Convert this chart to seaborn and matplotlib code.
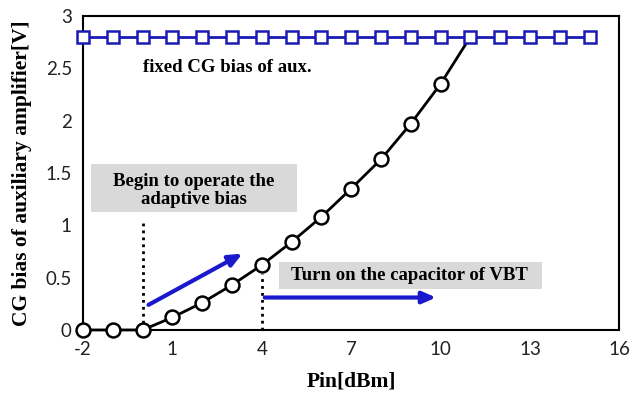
import numpy as np
import pandas as pd
import matplotlib
matplotlib.use("Agg")
import matplotlib.pyplot as plt
from matplotlib.patches import Rectangle
import seaborn as sns

# Input power sweep [dBm]
pin_fixed = [-2, -1, 0, 1, 2, 3, 4, 5, 6, 7, 8, 9, 10, 11, 12, 13, 14, 15]
bias_fixed = [2.8] * len(pin_fixed)

pin_adaptive = [-2, -1, 0, 1, 2, 3, 4, 5, 6, 7, 8, 9, 10, 11]
bias_adaptive = [0, 0, 0, 0.12, 0.26, 0.43, 0.62, 0.84, 1.08, 1.35, 1.63, 1.97, 2.35, 2.8]
n_marked = 13  # the final segment rises to the fixed-bias level without a marker

x_ticks = [-2, 1, 4, 7, 10, 13, 16]
y_ticks = [0, 0.5, 1, 1.5, 2, 2.5, 3]
y_tick_labels = ["0", "0.5", "1", "1.5", "2", "2.5", "3"]

sns.set_style("white")
plt.rcParams["text.color"] = "black"
plt.rcParams["axes.labelcolor"] = "black"
serif = ["Liberation Serif", "DejaVu Serif"]
tick_font = ["Lato", "DejaVu Sans"]
blue = "#1a1ab4"
arrow_blue = "#1a1acc"

fig = plt.figure(figsize=(6.31, 3.99), dpi=100)
ax = fig.add_axes([0.1315, 0.173, 0.85, 0.787])

df_fixed = pd.DataFrame({"pin": pin_fixed, "bias": bias_fixed})
df_adapt = pd.DataFrame({"pin": pin_adaptive, "bias": bias_adaptive})

sns.lineplot(data=df_adapt, x="pin", y="bias", ax=ax, color="black", lw=2,
             marker="o", markersize=10, markerfacecolor="white",
             markeredgecolor="black", markeredgewidth=1.8,
             markevery=list(range(n_marked)), zorder=3, clip_on=False)
sns.lineplot(data=df_fixed, x="pin", y="bias", ax=ax, color=blue, lw=2,
             marker="s", markersize=9, markerfacecolor="white",
             markeredgecolor=blue, markeredgewidth=1.8, zorder=4,
             clip_on=False)

ax.set_xlim(-2, 16)
ax.set_ylim(0, 3)
ax.set_xticks(x_ticks)
ax.set_yticks(y_ticks)
ax.set_xticklabels([str(v) for v in x_ticks], fontsize=13.5, family=tick_font,
                   color="#222222")
ax.set_yticklabels(y_tick_labels, fontsize=13.5, family=tick_font,
                   color="#222222")
ax.tick_params(axis="both", direction="out", length=5, width=1.2, color="black",
               pad=3)
for s in ax.spines.values():
    s.set_color("black")
    s.set_linewidth(1.5)

ax.set_xlabel("Pin[dBm]", fontsize=15.5, fontweight="bold", family=serif,
              labelpad=10, color="black")
ax.set_ylabel("CG bias of auxiliary amplifier[V]", fontsize=15.5,
              fontweight="bold", family=serif, labelpad=10, color="black")

# Annotations
ax.text(0.0, 2.51, "fixed CG bias of aux.", fontsize=13.5, fontweight="bold",
        family=serif, va="center", ha="left", color="black")

ax.add_patch(Rectangle((-1.73, 1.127), 6.91, 0.458, fc="#d9d9d9", ec="none",
                       zorder=1))
ax.text(1.72, 1.33, "Begin to operate the\nadaptive bias", fontsize=13.5,
        fontweight="bold", family=serif, ha="center", va="center",
        linespacing=1.1, zorder=2, color="black")
ax.plot([0, 0], [0, 1.05], ls=(0, (1, 1.5)), color="black", lw=2, zorder=2)

ax.add_patch(Rectangle((4.58, 0.39), 8.82, 0.26, fc="#d9d9d9", ec="none",
                       zorder=1))
ax.text(8.97, 0.52, "Turn on the capacitor of VBT", fontsize=13.5,
        fontweight="bold", family=serif, ha="center", va="center", zorder=2,
        color="black")
ax.plot([4, 4], [0, 0.53], ls=(0, (1, 1.5)), color="black", lw=2, zorder=2)

ax.annotate("", xy=(3.35, 0.73), xytext=(0.2, 0.24),
            arrowprops=dict(arrowstyle="-|>,head_length=0.8,head_width=0.35",
                            color=arrow_blue, lw=3, shrinkA=0, shrinkB=0))
ax.annotate("", xy=(9.85, 0.31), xytext=(4.1, 0.31),
            arrowprops=dict(arrowstyle="-|>,head_length=0.8,head_width=0.35",
                            color=arrow_blue, lw=3, shrinkA=0, shrinkB=0))

fig.savefig("out.png", dpi=100)
